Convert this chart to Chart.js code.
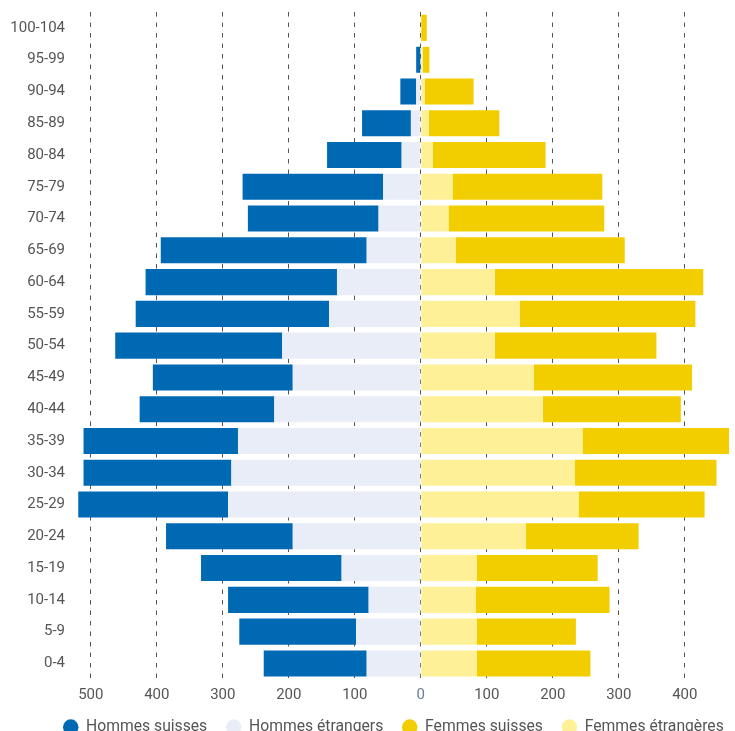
<!DOCTYPE html>
<html lang="fr">
<head>
<meta charset="utf-8">
<title>Pyramide des âges</title>
<script src="https://cdn.jsdelivr.net/npm/chart.js@4.4.1/dist/chart.umd.min.js"></script>
<style>
  html, body { margin: 0; padding: 0; background: #fff; overflow: hidden; }
  #wrap { width: 735px; height: 745px; }
</style>
</head>
<body>
<div id="wrap"><canvas id="pyramide" width="735" height="745"></canvas></div>
<script>
// Age groups, top to bottom
const ageGroups = ['100-104', '95-99', '90-94', '85-89', '80-84', '75-79', '70-74', '65-69', '60-64', '55-59',
  '50-54', '45-49', '40-44', '35-39', '30-34', '25-29', '20-24', '15-19', '10-14', '5-9', '0-4'];

const hommesSuisses    = [0, 7, 24, 74, 113, 213, 198, 312, 290, 293, 253, 212, 204, 234, 224, 227, 192, 213, 213, 177, 156];
const hommesEtrangers  = [0, 0, 7, 15, 29, 57, 64, 82, 127, 139, 210, 194, 222, 277, 287, 292, 194, 120, 79, 98, 82];
const femmesSuisses    = [9, 10, 74, 107, 171, 227, 236, 256, 316, 266, 245, 240, 209, 222, 215, 191, 171, 183, 203, 150, 172];
const femmesEtrangeres = [0, 3, 6, 12, 18, 48, 42, 53, 112, 150, 112, 171, 185, 245, 233, 239, 159, 85, 83, 85, 85];

const xTicks = [-500, -400, -300, -200, -100, 0, 100, 200, 300, 400];

const FONT = 'Roboto, "Open Sans", sans-serif';
const TEXT = '#555555';

// stacking goes from zero outwards, legend shows swiss first
const legendRank = [1, 0, 3, 2];

// legend sits a bit right of the canvas centre in the original
const legendShift = {
  id: 'legendShift',
  afterLayout(chart) {
    chart.legend.left += 28;
    chart.legend.right += 28;
  }
};

const ctx = document.getElementById('pyramide').getContext('2d');
new Chart(ctx, {
  type: 'bar',
  data: {
    labels: ageGroups,
    datasets: [
      { label: 'Hommes étrangers', data: hommesEtrangers.map(v => -v), backgroundColor: '#E9EDF8' },
      { label: 'Hommes suisses', data: hommesSuisses.map(v => -v), backgroundColor: '#0069B4' },
      { label: 'Femmes étrangères', data: femmesEtrangeres, backgroundColor: '#FEF096' },
      { label: 'Femmes suisses', data: femmesSuisses, backgroundColor: '#F2CE00' }
    ]
  },
  plugins: [legendShift],
  options: {
    indexAxis: 'y',
    responsive: false,
    animation: false,
    layout: { padding: { top: 12, right: 4, left: 0, bottom: 0 } },
    datasets: {
      bar: { categoryPercentage: 1, barPercentage: 0.82, borderWidth: 0 }
    },
    plugins: {
      legend: {
        position: 'bottom',
        labels: {
          usePointStyle: true,
          pointStyle: 'circle',
          boxWidth: 15,
          boxHeight: 11,
          padding: 19,
          color: TEXT,
          font: { family: FONT, size: 15.7 },
          sort: (a, b) => legendRank[a.datasetIndex] - legendRank[b.datasetIndex]
        }
      },
      tooltip: {
        callbacks: {
          label: item => item.dataset.label + ': ' + Math.abs(item.raw)
        }
      }
    },
    scales: {
      x: {
        stacked: true,
        min: -530,
        max: 470,
        afterBuildTicks: axis => { axis.ticks = xTicks.map(v => ({ value: v })); },
        afterFit: axis => { axis.height = 21; },
        ticks: {
          padding: 7,
          font: { family: FONT, size: 15 },
          color: c => (c.tick && c.tick.value === 0 ? '#6B7D9C' : TEXT),
          callback: value => Math.abs(value)
        },
        grid: { color: '#555555', lineWidth: 1, drawTicks: false },
        border: { display: false, dash: [4.5, 6] }
      },
      y: {
        stacked: true,
        afterFit: axis => {
          axis.width = 71;
          axis.paddingTop = 0;
          axis.paddingBottom = 0;
        },
        ticks: {
          padding: 6,
          font: { family: FONT, size: 15 },
          color: TEXT
        },
        grid: { display: false, drawTicks: false },
        border: { display: false }
      }
    }
  }
});
</script>
</body>
</html>
